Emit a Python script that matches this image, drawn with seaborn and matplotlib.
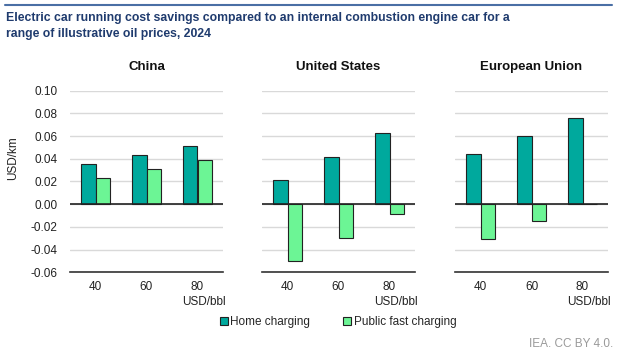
import matplotlib
matplotlib.use("Agg")
import matplotlib.pyplot as plt
import seaborn as sns
import pandas as pd
from matplotlib.patches import Patch

sns.set_theme(style="white")
plt.rcParams['font.family'] = ['Liberation Sans', 'DejaVu Sans']

regions = ["China", "United States", "European Union"]
oil_prices = ["40", "60", "80"]
home_charging = {
    "China": [0.0352, 0.0431, 0.0510],
    "United States": [0.0212, 0.0420, 0.0629],
    "European Union": [0.0445, 0.0600, 0.0760],
}
public_fast = {
    "China": [0.0232, 0.0310, 0.0393],
    "United States": [-0.0503, -0.0294, -0.0085],
    "European Union": [-0.0310, -0.0150, 0.0005],
}
series_names = ["Home charging", "Public fast charging"]
colors = ["#00A99D", "#6CF595"]
yticks = [-0.06, -0.04, -0.02, 0.00, 0.02, 0.04, 0.06, 0.08, 0.10]

W, H = 617, 355
fig = plt.figure(figsize=(W / 100, H / 100), dpi=100)

# top rule
fig.add_artist(plt.Line2D([5 / W, 612 / W], [1 - 4.5 / H, 1 - 4.5 / H], color="#4A6FA5", lw=1.5))
fig.text(6 / W, 1 - 18 / H, "Electric car running cost savings compared to an internal combustion engine car for a",
         fontsize=8.8, fontweight="bold", color="#1F3B6E", va="center", ha="left")
fig.text(6 / W, 1 - 34 / H, "range of illustrative oil prices, 2024",
         fontsize=8.8, fontweight="bold", color="#1F3B6E", va="center", ha="left")

lefts = [70, 262, 455]
ax_w = 153
ax_top, ax_bot = 90.7, 272.3

for i, reg in enumerate(regions):
    ax = fig.add_axes([lefts[i] / W, 1 - ax_bot / H, ax_w / W, (ax_bot - ax_top) / H])
    df = pd.DataFrame({
        "price": oil_prices * 2,
        "value": home_charging[reg] + public_fast[reg],
        "series": [series_names[0]] * 3 + [series_names[1]] * 3,
    })
    sns.barplot(data=df, x="price", y="value", hue="series", hue_order=series_names,
                palette=colors, saturation=1, width=0.56, edgecolor="#222222", linewidth=0.8,
                ax=ax, legend=False, zorder=3)
    ax.set_xlim(-0.5, 2.5)
    ax.set_ylim(-0.06, 0.10)
    ax.set_yticks(yticks)
    ax.grid(axis="y", color="#D9D9D9", lw=1.0, zorder=0)
    ax.axhline(0, color="#222222", lw=1.2, zorder=4)
    for s in ["top", "left", "right"]:
        ax.spines[s].set_visible(False)
    ax.spines["bottom"].set_color("#333333")
    ax.spines["bottom"].set_linewidth(1.2)
    ax.tick_params(axis="y", length=0, labelsize=8.5, colors="#222222", pad=9)
    ax.tick_params(axis="x", length=0, labelsize=8.5, colors="#222222", pad=6)
    ax.set_xlabel("")
    ax.set_ylabel("")
    if i == 0:
        ax.set_yticklabels([f"{v:.2f}" for v in yticks])
        ax.set_ylabel("USD/km", fontsize=8.5, color="#222222")
        ax.yaxis.set_label_coords(-0.33, 0.63)
    else:
        ax.set_yticklabels([])
    ax.set_title(reg, fontsize=9.5, fontweight="bold", color="#111111", pad=15)
    ax.text(1.02, -0.165, "USD/bbl", transform=ax.transAxes, ha="right", va="center",
            fontsize=8.5, color="#222222")

handles = [Patch(facecolor=c, edgecolor="#222222", linewidth=0.8) for c in colors]
fig.legend(handles, series_names, loc="center", bbox_to_anchor=(338 / W, 1 - 322 / H),
           ncol=2, frameon=False, fontsize=8.5, handlelength=0.7, handleheight=0.7,
           handletextpad=0.2, columnspacing=2.8)
fig.text(613 / W, 1 - 344 / H, "IEA. CC BY 4.0.", ha="right", va="center", fontsize=8.5, color="#9A9A9A")

fig.savefig("out.png", dpi=100)
